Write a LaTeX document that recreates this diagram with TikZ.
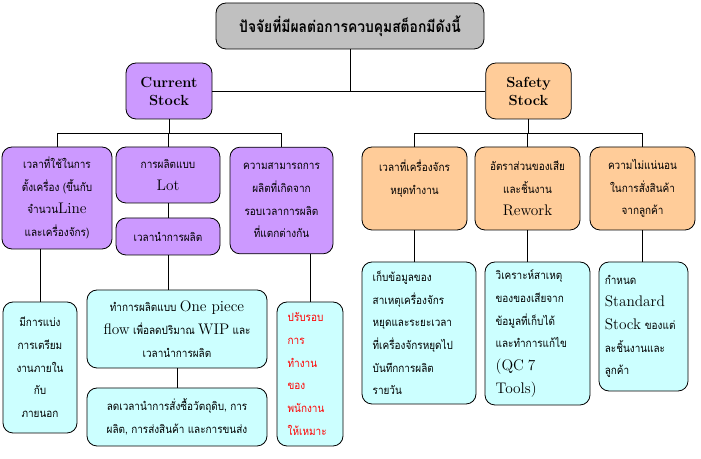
\documentclass[tikz,border=0pt]{standalone}
\usepackage{fontspec}
\newfontfamily\thaifont[Script=Thai,FakeStretch=0.88]{Loma}
\usepackage{tikz}

\definecolor{titlegray}{HTML}{C0C0C0}
\definecolor{curpurple}{HTML}{CC99FF}
\definecolor{safeorange}{HTML}{FFCC99}
\definecolor{actcyan}{HTML}{CCFFFF}

\newcommand{\lat}[1]{{\normalfont\fontsize{11.5}{17}\selectfont #1}}

\tikzset{
  box/.style={draw, rounded corners=7.5pt, align=center, inner sep=2pt,
    font=\thaifont\fontsize{8.5}{17}\selectfont},
  curbox/.style={box, fill=curpurple},
  safebox/.style={box, fill=safeorange},
  actbox/.style={box, fill=actcyan},
  leftbox/.style={actbox, align=left, inner xsep=8pt},
}

\begin{document}
\begin{tikzpicture}[x=0.75pt,y=-0.75pt,line width=0.6pt]
\useasboundingbox (0,0) rectangle (701,459);

% Title
\node[box, fill=titlegray, minimum width=201pt, minimum height=34.5pt,
  font=\thaifont\bfseries\fontsize{11.8}{14}\selectfont] (title) at (350,26) {ปัจจัยที่มีผลต่อการควบคุมสต็อกมีดังนี้};

% Two kinds of stock
\node[curbox, minimum width=64.5pt, minimum height=42pt, font=\bfseries\fontsize{11}{13.5}\selectfont] (cur) at (169,91) {Current\\Stock};
\node[safebox, minimum width=64pt, minimum height=42pt, font=\bfseries\fontsize{11}{13.5}\selectfont] (safe) at (528.5,91) {Safety\\Stock};

% Causes for current stock
\node[curbox, minimum width=82.5pt, minimum height=76.5pt] (A) at (57,198) {เวลาที่ใช้ในการ\\ตั้งเครื่อง (ขึ้นกับ\\จำนวน\lat{Line}\\และเครื่องจักร)};
\node[curbox, minimum width=78pt, minimum height=42pt] (B) at (168,175) {การผลิตแบบ\\\lat{Lot}};
\node[curbox, minimum width=78pt, minimum height=27.75pt] (B2) at (168,236.5) {เวลานำการผลิต};
\node[curbox, minimum width=77.25pt, minimum height=80pt] (C) at (281.5,200.5) {ความสามารถการ\\ผลิตที่เกิดจาก\\รอบเวลาการผลิต\\ที่แตกต่างกัน};

% Causes for safety stock
\node[safebox, minimum width=78.75pt, minimum height=62.25pt] (D) at (414.5,188.5) {เวลาที่เครื่องจักร\\หยุดทำงาน\\~};
\node[safebox, minimum width=78.75pt, minimum height=62.25pt] (E) at (527.5,188.5) {อัตราส่วนของเสีย\\และชิ้นงาน\\\lat{Rework}};
\node[safebox, minimum width=78.75pt, minimum height=62.25pt] (F) at (642.5,188.5) {ความไม่แน่นอน\\ในการสั่งสินค้า\\จากลูกค้า};

% Actions
\node[actbox, minimum width=55.5pt, minimum height=98.25pt] (G) at (40,367.5) {มีการแบ่ง\\การเตรียม\\งานภายใน\\กับ\\ภายนอก};
\node[actbox, minimum width=135pt, minimum height=58.5pt] (H) at (177,329) {ทำการผลิตแบบ \lat{One piece}\\\lat{flow} เพื่อลดปริมาณ \lat{WIP} และ\\เวลานำการผลิต};
\node[actbox, minimum width=135pt, minimum height=43.5pt] (H2) at (177,417) {ลดเวลานำการสั่งซื้อวัตถุดิบ, การ\\ผลิต, การส่งสินค้า และการขนส่ง};
\node[leftbox, text=red, text width=33.5pt, minimum height=108pt] (I) at (310,374) {ปรับรอบ\\การ\\ทำงาน\\ของ\\พนักงาน\\ให้เหมาะ};
\node[leftbox, text width=69.5pt, minimum height=106.5pt] (J) at (419,333) {เก็บข้อมูลของ\\สาเหตุเครื่องจักร\\หยุดและระยะเวลา\\ที่เครื่องจักรหยุดไป\\บันทึกการผลิต\\รายวัน};
\node[leftbox, text width=62.75pt, minimum height=107.25pt] (K) at (537.5,333.5) {วิเคราะห์สาเหตุ\\ของของเสียจาก\\ข้อมูลที่เก็บได้\\และทำการแก้ไข\\\lat{(QC 7}\\\lat{Tools)}};
\node[leftbox, text width=58pt, inner xsep=4.4pt, minimum height=96.75pt] (L) at (643.5,326.5) {กำหนด\\\lat{Standard}\\\lat{Stock} ของแต่\\ละชิ้นงานและ\\ลูกค้า};

% Top connectors
\coordinate (bus) at (0,133);
\draw (title.south) -- (title.south |- cur.east);
\draw (cur.east) -- (safe.west);
\draw (cur.south) -- (cur.south |- bus);
\draw (A.north) -- (A.north |- bus) -- (C.north |- bus) -- (C.north);
\draw (B.north) -- (B.north |- bus);
\draw (safe.south) -- (safe.south |- bus);
\draw (D.north) -- (D.north |- bus) -- (F.north |- bus) -- (F.north);
\draw (E.north) -- (E.north |- bus);

% Lower connectors
\draw (A.south -| G.north) -- (G.north);
\draw (B.south) -- (B2.north);
\draw (B2.south) -- (B2.south |- H.north);
\draw (H.south) -- (H2.north);
\draw (C.south -| I.north) -- (I.north);
\draw (D.south) -- (D.south |- J.north);
\draw (E.south) -- (E.south |- K.north);
\draw (F.south) -- (F.south |- L.north);

\end{tikzpicture}
\end{document}
